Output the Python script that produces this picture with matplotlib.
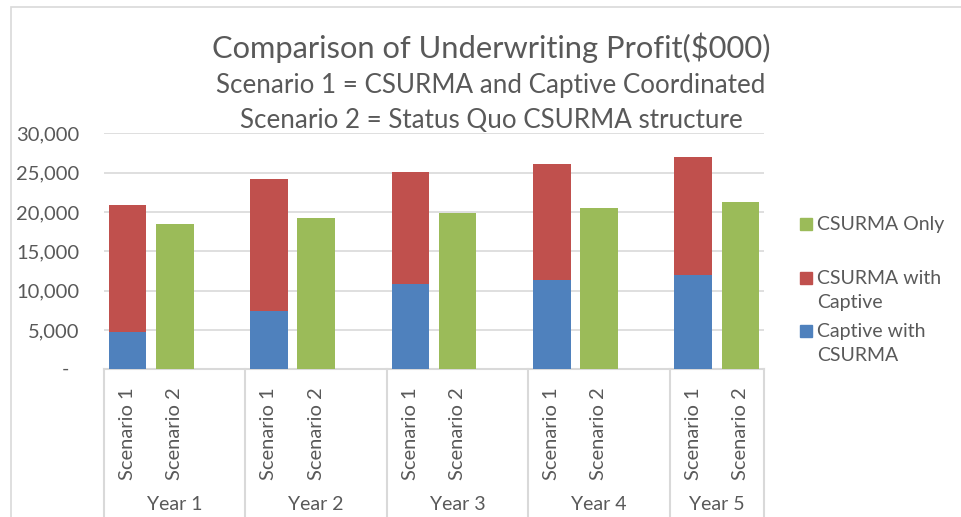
import matplotlib
matplotlib.use("Agg")
import matplotlib.pyplot as plt
from matplotlib.patches import Rectangle
import numpy as np

# ---- data ----
years = ["Year 1", "Year 2", "Year 3", "Year 4", "Year 5"]
scenarios = ["Scenario 1", "Scenario 2"]
captive_with_csurma = [4800, 7450, 10900, 11400, 11950]
csurma_with_captive = [16050, 16700, 14150, 14650, 15100]
csurma_only = [18500, 19200, 19850, 20550, 21250]
series_names = ["Captive with\nCSURMA", "CSURMA with\nCaptive", "CSURMA Only"]
series_colors = ["#4F81BD", "#C0504D", "#9BBB59"]
ytick_values = [0, 5000, 10000, 15000, 20000, 25000, 30000]

FONT = "Lato"
TXT = "#595959"
GRID = "#D9D9D9"
plt.rcParams["font.family"] = [FONT, "DejaVu Sans"]

W, H = 962, 517
fig = plt.figure(figsize=(W / 100, H / 100), dpi=100)

# axes in pixel layout
L, R, T, B = 104, 764, 133.3, 369.3
ax = fig.add_axes([L / W, 1 - B / H, (R - L) / W, (B - T) / H])

n = len(years)
x1 = np.arange(n) * 3
x2 = x1 + 1
bw = 0.8
ax.bar(x1, captive_with_csurma, width=bw, color=series_colors[0], zorder=3)
ax.bar(x1, csurma_with_captive, width=bw, bottom=captive_with_csurma,
       color=series_colors[1], zorder=3)
ax.bar(x2, csurma_only, width=bw, color=series_colors[2], zorder=3)

ax.set_xlim(-0.5, 3 * n - 1 - 0.5)
ax.set_ylim(0, 30000)

for s in ax.spines.values():
    s.set_visible(False)
ax.set_yticks(ytick_values)
ax.yaxis.grid(True, color=GRID, linewidth=1.2, zorder=0)
ax.set_axisbelow(True)
ax.tick_params(axis="y", length=0, pad=18, labelsize=14.5, labelcolor=TXT)
ax.set_yticklabels([f"{v:,}" if v else "" for v in ytick_values])
ax.text(-0.059, 0, "-", transform=ax.get_yaxis_transform(), ha="center",
        va="center", fontsize=14, color=TXT)

# x tick labels (scenario)
xt = np.ravel(np.column_stack([x1, x2]))
ax.set_xticks(xt)
ax.set_xticklabels(scenarios * n, rotation=90, fontsize=14.5, color=TXT)
ax.tick_params(axis="x", length=0, pad=13)

# axis line and dividers
ax.plot([-0.5, 3 * n - 1.5], [0, 0], color=GRID, lw=1.5, zorder=2, clip_on=False)
ah = B - T
divs = [-0.5] + [3 * i + 2.5 for i in range(n - 1)] + [3 * n - 1.5]
for d in divs:
    ax.plot([d, d], [0, -(H - B + 5) / ah], transform=ax.get_xaxis_transform(),
            color=GRID, lw=1.5, clip_on=False)
# year labels
for i, yl in enumerate(years):
    lo = divs[i]
    hi = divs[i + 1]
    ax.text((lo + hi) / 2, -(505 - B) / ah, yl, transform=ax.get_xaxis_transform(),
            ha="center", va="center", fontsize=14, color=TXT)

# titles
fig.text(491 / W, 1 - 48 / H, "Comparison of Underwriting Profit($000)",
         ha="center", va="center", fontsize=22.2, color=TXT)
fig.text(491 / W, 1 - 86 / H, "Scenario 1 = CSURMA and Captive Coordinated",
         ha="center", va="center", fontsize=18.7, color=TXT)
fig.text(491 / W, 1 - 121 / H, "Scenario 2 = Status Quo CSURMA structure",
         ha="center", va="center", fontsize=18.7, color=TXT)

# legend (manual, Excel-like order)
leg_rows = [(2, 224), (1, 278), (0, 331)]
for idx, yc in leg_rows:
    fig.patches.append(Rectangle((800 / W, 1 - (yc + 6) / H), 12 / W, 12 / H,
                                 transform=fig.transFigure, color=series_colors[idx]))
    fig.text(817 / W, 1 - (yc - 8) / H, series_names[idx], ha="left", va="top",
             fontsize=14, color=TXT, linespacing=1.53)

# outer border
fig.patches.append(Rectangle((11 / W, -0.1), 2, 1 - 7 / H + 0.1, transform=fig.transFigure,
                             fill=False, edgecolor=GRID, lw=1.2))

fig.savefig("out.png", dpi=100)
